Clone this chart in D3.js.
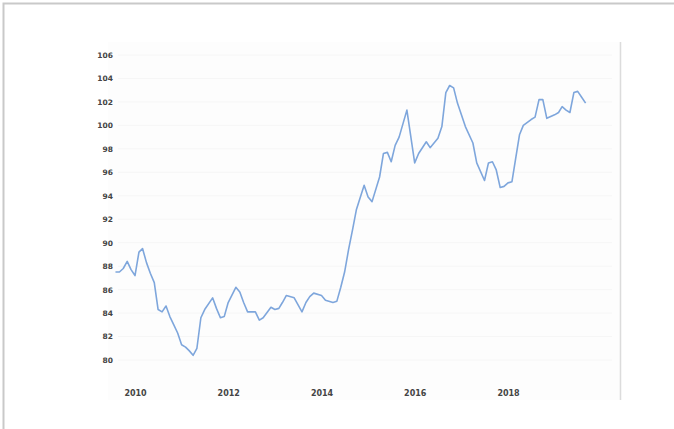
<!DOCTYPE html>
<html><head><meta charset="utf-8">
<script src="https://cdn.jsdelivr.net/npm/d3@7"></script>
<style>
html,body{margin:0;padding:0;background:#fff;}
svg{display:block;}
.tick text{font-family:"DejaVu Sans",sans-serif;font-weight:bold;fill:#444;}
</style></head>
<body>
<svg id="c" width="674" height="429"></svg>
<script>
const months = ["2009-08","2009-09","2009-10","2009-11","2009-12","2010-01","2010-02","2010-03","2010-04","2010-05","2010-06","2010-07","2010-08","2010-09","2010-10","2010-11","2010-12","2011-01","2011-02","2011-03","2011-04","2011-05","2011-06","2011-07","2011-09","2011-10","2011-11","2011-12","2012-01","2012-03","2012-04","2012-05","2012-06","2012-08","2012-09","2012-10","2012-12","2013-01","2013-02","2013-03","2013-04","2013-06","2013-08","2013-09","2013-10","2013-11","2014-01","2014-02","2014-04","2014-05","2014-06","2014-07","2014-08","2014-09","2014-10","2014-12","2015-01","2015-02","2015-04","2015-05","2015-06","2015-07","2015-08","2015-09","2015-11","2016-01","2016-02","2016-04","2016-05","2016-07","2016-08","2016-09","2016-10","2016-11","2016-12","2017-01","2017-02","2017-04","2017-05","2017-07","2017-08","2017-09","2017-10","2017-11","2017-12","2018-01","2018-02","2018-03","2018-04","2018-05","2018-07","2018-08","2018-09","2018-10","2018-11","2019-01","2019-02","2019-03","2019-04","2019-05","2019-06","2019-07","2019-08","2019-09"];
const values = [87.5,87.5,87.8,88.4,87.7,87.2,89.2,89.5,88.3,87.4,86.6,84.3,84.1,84.6,83.7,83.0,82.3,81.3,81.1,80.8,80.4,81.0,83.6,84.3,85.3,84.4,83.6,83.7,84.9,86.2,85.8,84.9,84.1,84.1,83.4,83.6,84.5,84.3,84.4,84.9,85.5,85.3,84.1,84.9,85.4,85.7,85.5,85.1,84.9,85.0,86.2,87.5,89.4,91.1,92.8,94.9,93.9,93.5,95.6,97.6,97.7,96.9,98.3,99.0,101.3,96.8,97.6,98.6,98.1,98.9,99.9,102.8,103.4,103.2,101.9,100.9,99.9,98.5,96.8,95.3,96.8,96.9,96.2,94.7,94.8,95.1,95.2,97.1,99.2,100.0,100.5,100.7,102.2,102.2,100.6,100.9,101.1,101.6,101.3,101.1,102.8,102.9,102.4,101.9];
const yTicks = [80,82,84,86,88,90,92,94,96,98,100,102,104,106];
const xTickYears = ["2010","2012","2014","2016","2018"];

const parse = d3.timeParse("%Y-%m");
const data = months.map((m,i)=>({date:parse(m), value:values[i]}));

const svg = d3.select("#c");

// outer frame
svg.append("rect").attr("x",3.5).attr("y",3.5).attr("width",690).attr("height",440)
  .attr("fill","none").attr("stroke","#c9c9c9").attr("stroke-width",2);

const x = d3.scaleTime().domain([parse("2010-01"), parse("2018-01")]).range([135,508]);
const y = d3.scaleLinear().domain([80,106]).range([360,55]);

// faint plot background
svg.append("rect").attr("x",108).attr("y",42).attr("width",512).attr("height",358).attr("fill","#fdfdfd");

// faint gridlines
svg.append("g").selectAll("line").data(yTicks).join("line")
  .attr("x1",118).attr("x2",612).attr("y1",d=>y(d)).attr("y2",d=>y(d))
  .attr("stroke","#f6f6f6").attr("stroke-width",1);

// right vertical line
svg.append("line").attr("x1",620.5).attr("x2",620.5).attr("y1",42).attr("y2",400)
  .attr("stroke","#dcdcdc").attr("stroke-width",1.5);

// y axis
const ya = svg.append("g").attr("transform","translate(113,0)")
  .call(d3.axisLeft(y).tickValues(yTicks).tickSize(0).tickPadding(0).tickFormat(d3.format("d")));
ya.select(".domain").remove();
ya.selectAll("text").attr("font-size",7.5);

// x axis
const xa = svg.append("g").attr("transform","translate(0,390)")
  .call(d3.axisBottom(x).tickValues(xTickYears.map(s=>d3.timeParse("%Y")(s))).tickSize(0).tickPadding(0).tickFormat(d3.timeFormat("%Y")));
xa.select(".domain").remove();
xa.selectAll("text").attr("font-size",8);

// line
svg.append("path").datum(data)
  .attr("fill","none").attr("stroke","#7ea6dc").attr("stroke-width",1.6)
  .attr("stroke-linejoin","round")
  .attr("d", d3.line().x(d=>x(d.date)).y(d=>y(d.value)));
</script>
</body></html>
